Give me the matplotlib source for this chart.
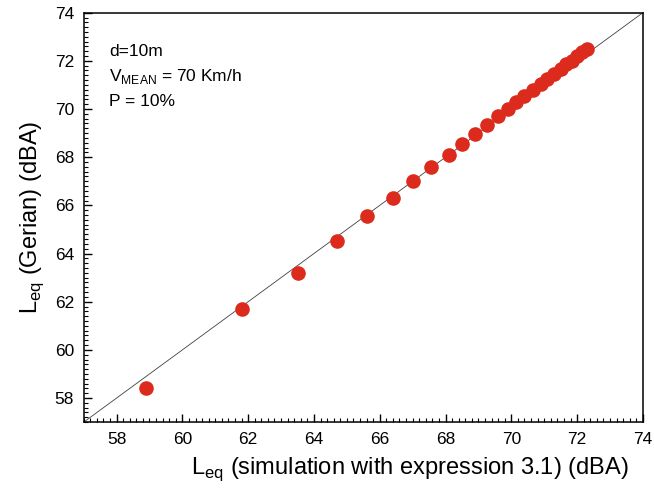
import matplotlib
matplotlib.use('Agg')
import matplotlib.pyplot as plt
from matplotlib.ticker import MultipleLocator
import numpy as np

plt.rcParams['font.family'] = ['Liberation Sans', 'DejaVu Sans']

# values
leq_sim = [58.9, 61.8, 63.5, 64.7, 65.6, 66.4, 67.0, 67.55, 68.1, 68.5, 68.9,
           69.25, 69.6, 69.9, 70.15, 70.4, 70.65, 70.9, 71.1, 71.3, 71.5,
           71.65, 71.85, 72.0, 72.15, 72.3]
leq_gerian = [58.4, 61.7, 63.2, 64.5, 65.55, 66.3, 67.0, 67.6, 68.1, 68.55, 68.95,
              69.35, 69.7, 70.0, 70.3, 70.55, 70.8, 71.05, 71.25, 71.45, 71.65,
              71.85, 72.0, 72.2, 72.35, 72.5]
ref_line = [57, 74]
x_ticks = np.arange(58, 75, 2)
y_ticks = np.arange(58, 75, 2)

fig = plt.figure(figsize=(6.54, 4.88), dpi=100)
ax = fig.add_axes([0.128, 0.135, 0.855, 0.839])

ax.plot(ref_line, ref_line, color='#404040', linewidth=0.6, zorder=1)
ax.plot(leq_sim, leq_gerian, 'o', color='#dc2a1c', markersize=10.5,
        markeredgewidth=0, zorder=2)

ax.set_xlim(57, 74)
ax.set_ylim(57, 74)
ax.set_xticks(x_ticks)
ax.set_yticks(y_ticks)
ax.xaxis.set_minor_locator(MultipleLocator(0.2))
ax.yaxis.set_minor_locator(MultipleLocator(0.2))
ax.tick_params(which='major', direction='in', length=6, width=1, labelsize=12.5, pad=7)
ax.tick_params(which='minor', direction='in', length=3, width=0.8)
for s in ax.spines.values():
    s.set_linewidth(1.1)

ax.set_xlabel('L$_{\\mathregular{eq}}$ (simulation with expression 3.1) (dBA)', fontsize=17, labelpad=6)
ax.xaxis.label.set_x(0.583)
ax.set_ylabel('L$_{\\mathregular{eq}}$ (Gerian) (dBA)', fontsize=17, labelpad=6)

ax.text(0.046, 0.895, 'd=10m', transform=ax.transAxes, fontsize=12.5)
ax.text(0.046, 0.833, 'V$_{\\mathregular{MEAN}}$ = 70 Km/h', transform=ax.transAxes, fontsize=12.5)
ax.text(0.046, 0.771, 'P = 10%', transform=ax.transAxes, fontsize=12.5)

fig.savefig('out.png', dpi=100)
